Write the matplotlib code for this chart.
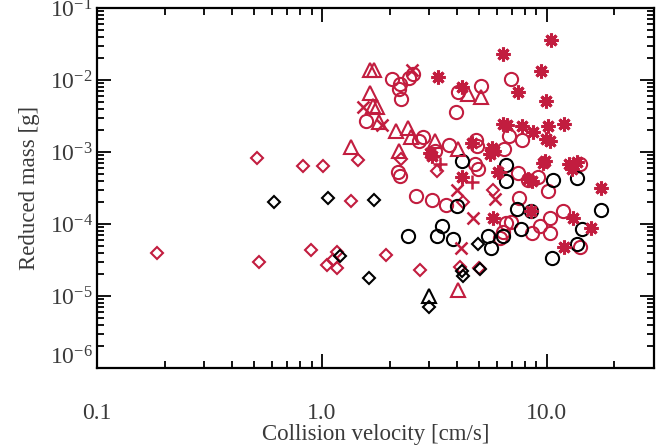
import matplotlib
matplotlib.use('Agg')
import matplotlib.pyplot as plt
import matplotlib.transforms as mtransforms
from matplotlib.ticker import LogLocator, FixedLocator, FixedFormatter, NullFormatter

RED = '#c21d3f'
plt.rcParams['font.family'] = 'Liberation Serif'
plt.rcParams['mathtext.fontset'] = 'stix'

# collision velocity [cm/s], reduced mass [g]
red_diamond_v = [0.185, 0.525, 0.514, 0.824, 1.01, 0.893, 1.05, 1.12, 1.17, 1.17,
                 1.35, 1.45, 1.92, 2.24, 2.73, 3.24, 4.10, 4.24, 4.98, 5.75]
red_diamond_m = [3.9e-5, 3.0e-5, 8.2e-4, 6.4e-4, 6.4e-4, 4.3e-5, 2.7e-5, 3.2e-5, 4.1e-5, 2.45e-5,
                 2.07e-4, 7.7e-4, 3.7e-5, 8.0e-4, 2.3e-5, 5.4e-4, 2.55e-5, 2.0e-4, 2.45e-5, 3.0e-4]

black_diamond_v = [0.612, 1.06, 1.21, 1.62, 1.70, 2.99, 4.19, 4.24, 4.93, 5.04]
black_diamond_m = [2.0e-4, 2.28e-4, 3.6e-5, 1.8e-5, 2.13e-4, 7.0e-6, 2.2e-5, 1.9e-5, 5.3e-5, 2.4e-5]

red_tri_v = [1.63, 1.70, 1.63, 1.69, 1.76, 1.79, 2.13, 2.41, 2.49, 3.18,
             1.35, 2.20, 4.46, 5.09, 4.02, 4.02]
red_tri_m = [0.0140, 0.0136, 0.00668, 0.0044, 0.00426, 0.00263, 0.00197, 0.00217, 0.00162, 0.00143,
             0.00117, 0.00103, 0.00647, 0.00588, 0.0011, 1.2e-5]

black_tri_v = [2.99]
black_tri_m = [1.0e-5]

red_circle_v = [2.05, 2.22, 2.20, 2.24, 2.44, 2.54, 1.57, 4.02, 5.09, 3.94,
                6.92, 2.70, 2.81, 3.67, 3.18, 2.18, 2.22, 4.83, 4.88, 6.78,
                7.74, 6.44, 4.79, 4.93, 7.43, 8.24, 9.12, 10.1, 2.62, 3.08,
                3.56, 7.51, 11.8, 14.0, 10.3, 6.57, 6.92, 6.18, 6.37, 8.57,
                9.31, 10.4, 14.0]
red_circle_m = [0.0102, 0.00893, 0.0076, 0.00551, 0.0108, 0.0123, 0.00272, 0.0069, 0.00838, 0.00362,
                0.0105, 0.00143, 0.00162, 0.00125, 0.00103, 5.25e-4, 4.6e-4, 0.00147, 0.00121, 0.00168,
                0.00147, 0.0011, 6.8e-4, 5.8e-4, 5.1e-4, 4.1e-4, 4.5e-4, 2.85e-4, 2.43e-4, 2.13e-4,
                1.82e-4, 2.28e-4, 1.5e-4, 6.8e-4, 1.23e-4, 1.02e-4, 1.08e-4, 6.3e-5, 7.85e-5, 7.4e-5,
                9.5e-5, 7.4e-5, 4.8e-5]

black_circle_v = [4.19, 6.57, 6.57, 10.7, 13.6, 7.36, 3.98, 17.4, 3.42, 2.41,
                  3.24, 3.82, 5.47, 5.64, 6.37, 7.66, 10.6, 13.6, 14.3, 8.49]
black_circle_m = [7.5e-4, 6.6e-4, 3.9e-4, 4.1e-4, 4.3e-4, 1.6e-4, 1.76e-4, 1.55e-4, 9.5e-5, 6.9e-5,
                  6.9e-5, 6.1e-5, 6.9e-5, 4.7e-5, 6.9e-5, 8.4e-5, 3.4e-5, 5.2e-5, 8.6e-5, 1.5e-4]

red_ast_v = [10.5, 6.37, 9.40, 3.28, 4.19, 7.43, 9.90, 6.37, 6.64, 7.74,
             10.1, 11.9, 8.66, 9.90, 10.3, 3.02, 3.08, 4.64, 5.70, 5.81,
             5.58, 9.79, 9.60, 12.6, 13.7, 12.9, 4.19, 6.05, 8.24, 8.57,
             17.5, 13.1, 5.75, 8.49, 12.0, 15.8]
red_ast_m = [0.0357, 0.0227, 0.0132, 0.0112, 0.00811, 0.0069, 0.00517, 0.00247, 0.00239, 0.00231,
             0.00231, 0.00247, 0.00191, 0.00152, 0.00143, 9.7e-4, 8.8e-4, 0.00134, 0.00114, 0.00102,
             9.4e-4, 7.5e-4, 7.0e-4, 6.8e-4, 7.2e-4, 5.8e-4, 4.5e-4, 5.25e-4, 4.2e-4, 3.9e-4,
             3.2e-4, 1.23e-4, 1.23e-4, 1.5e-4, 4.8e-5, 8.9e-5]

red_x_v = [2.51, 1.52, 1.85, 3.98, 5.87, 4.69, 4.15]
red_x_m = [0.0136, 0.00426, 0.00239, 3.0e-4, 2.2e-4, 1.23e-4, 4.7e-5]

red_plus_v = [3.35, 4.64, 6.18]
red_plus_m = [6.8e-4, 3.8e-4, 5.25e-4]

xtick_vals = [0.1, 1.0, 10.0]
xtick_labels = ['0.1', '1.0', '10.0']

fig = plt.figure(figsize=(6.7, 4.48), dpi=100)
ax = fig.add_axes([0.1448, 0.1786, 0.8312, 0.8034])

open_kw = dict(linestyle='none', markerfacecolor='none', markeredgewidth=1.5)
ax.plot(red_diamond_v, red_diamond_m, marker='D', markersize=6.5, markeredgecolor=RED, **open_kw)
ax.plot(black_diamond_v, black_diamond_m, marker='D', markersize=6.5, markeredgecolor='black', **open_kw)
ax.plot(red_circle_v, red_circle_m, marker='o', markersize=9.5, markeredgecolor=RED, **open_kw)
ax.plot(black_circle_v, black_circle_m, marker='o', markersize=9.5, markeredgecolor='black', **open_kw)
ax.plot(red_tri_v, red_tri_m, marker='^', markersize=10, markeredgecolor=RED, **open_kw)
ax.plot(black_tri_v, black_tri_m, marker='^', markersize=10, markeredgecolor='black', **open_kw)
ax.plot(red_ast_v, red_ast_m, marker=(8, 2, 0), markersize=10, markeredgecolor=RED,
        linestyle='none', markeredgewidth=2.2)
ax.plot(red_x_v, red_x_m, marker='x', markersize=9, markeredgecolor=RED,
        linestyle='none', markeredgewidth=1.8)
ax.plot(red_plus_v, red_plus_m, marker='+', markersize=10, markeredgecolor=RED,
        linestyle='none', markeredgewidth=1.8)

ax.set_xscale('log')
ax.set_yscale('log')
ax.set_xlim(0.1, 30)
ax.set_ylim(1e-6, 1e-1)

ax.xaxis.set_major_locator(FixedLocator(xtick_vals))
ax.xaxis.set_major_formatter(FixedFormatter(xtick_labels))
ax.xaxis.set_minor_locator(LogLocator(base=10, subs=range(2, 10)))
ax.xaxis.set_minor_formatter(NullFormatter())
ax.yaxis.set_major_locator(LogLocator(base=10, numticks=10))
ax.yaxis.set_minor_locator(LogLocator(base=10, subs=range(2, 10), numticks=10))
ax.yaxis.set_minor_formatter(NullFormatter())

ax.tick_params(which='both', direction='in', top=True, right=True,
               labelsize=17, labelcolor='#3a3a3a', width=1.3)
ax.tick_params(which='major', length=10)
ax.tick_params(which='minor', length=5)
ax.tick_params(axis='x', which='major', pad=25)
ax.tick_params(axis='y', which='major', pad=3)
for s in ax.spines.values():
    s.set_linewidth(1.6)

ax.set_xlabel('Collision velocity [cm/s]', fontsize=16.5, color='#3a3a3a', labelpad=0)
ax.set_ylabel('Reduced mass [g]', fontsize=16.5, color='#3a3a3a', labelpad=7)

# lift the bottom y label off the x axis
fig.canvas.draw()
for lab in ax.get_yticklabels():
    if '-6' in lab.get_text() or '6' in lab.get_text()[-3:]:
        lab.set_transform(lab.get_transform() + mtransforms.ScaledTranslation(0, 13 / 100, fig.dpi_scale_trans))

fig.savefig('out.png', dpi=100)
